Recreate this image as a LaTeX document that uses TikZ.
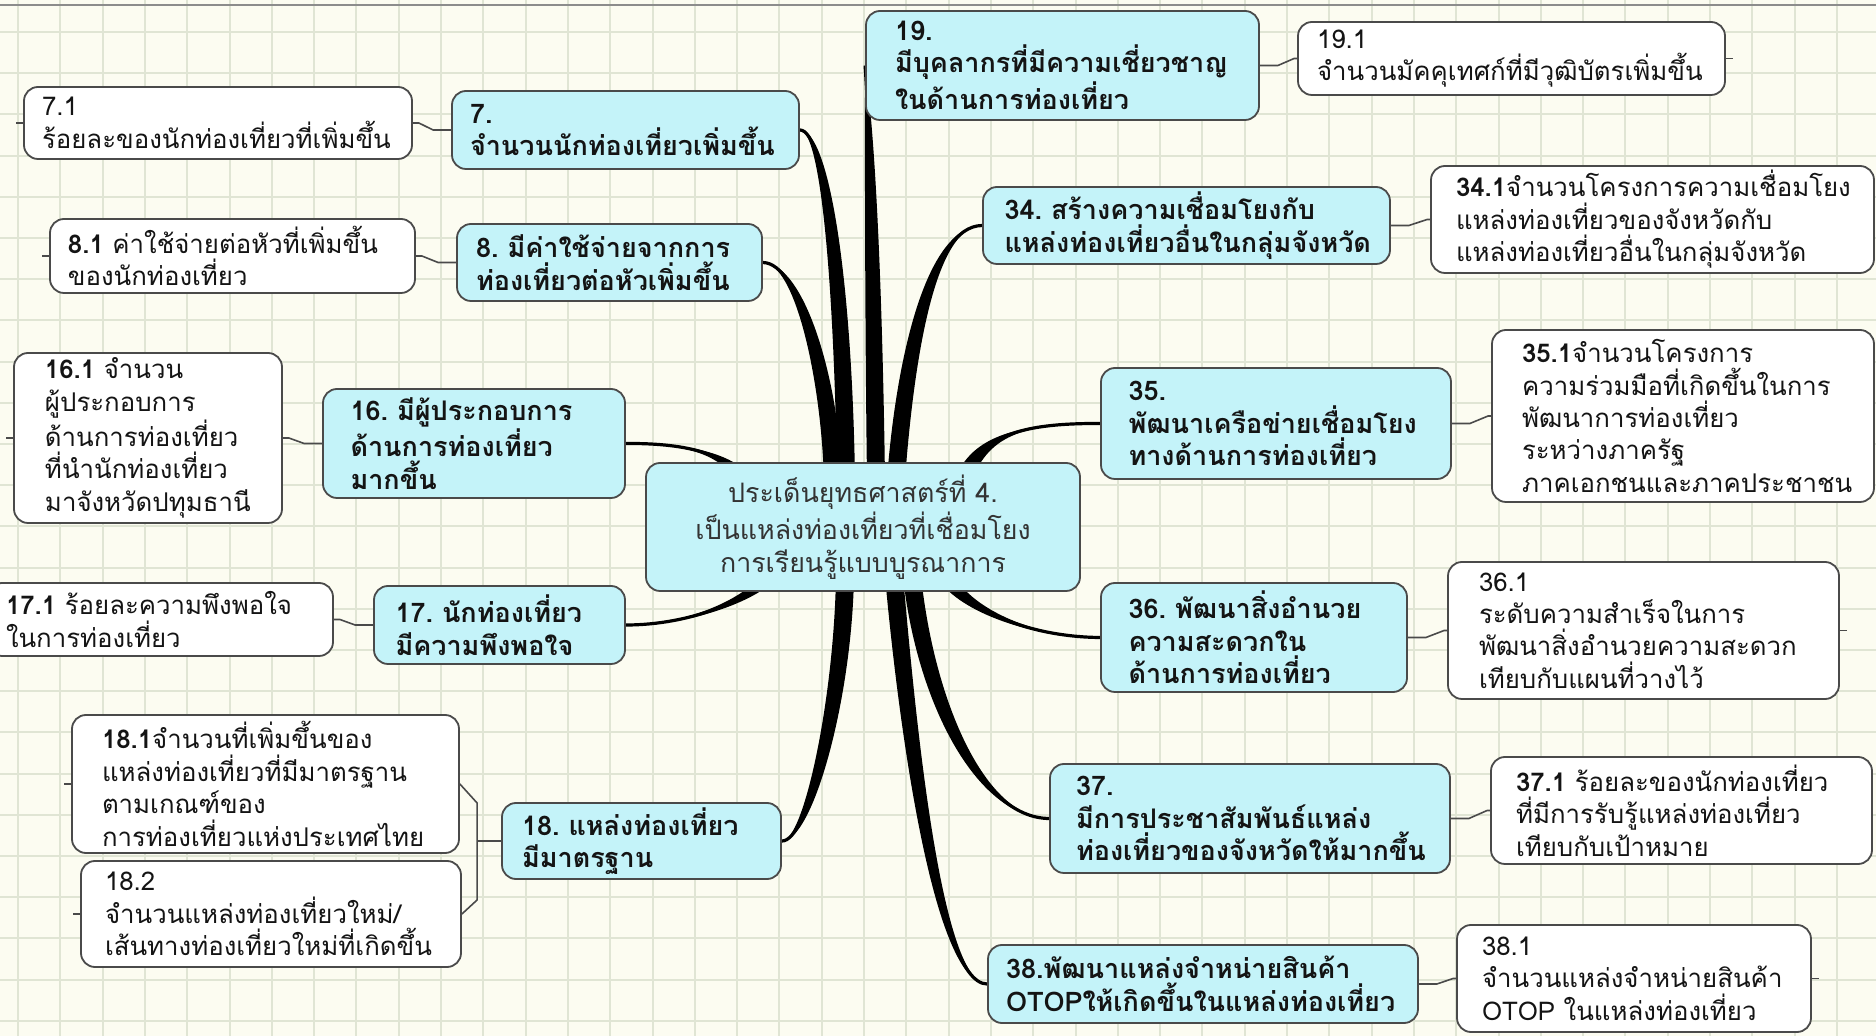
\documentclass[tikz,border=0pt]{standalone}
\usepackage{fontspec}
\newfontfamily\lomafont[Script=Thai]{Loma}
\usetikzlibrary{calc}
\pgfdeclarelayer{paper}
\pgfdeclarelayer{links}
\pgfsetlayers{paper,links,main}

\definecolor{paperbg}{HTML}{FCFCF1}
\definecolor{gridc}{HTML}{E0E5D4}
\definecolor{topicfill}{HTML}{C4F3F9}
\definecolor{boxline}{HTML}{4A4A4A}
\definecolor{hubtext}{HTML}{333333}

\tikzset{
  box/.style={draw=boxline, line width=0.9pt, rounded corners=7pt,
    inner xsep=4pt, inner ysep=0pt, align=left},
  % width, height, left padding, text width (all in pt)
  sz/.style n args={4}{minimum width=#1pt, minimum height=#2pt,
    inner xsep=#3pt, text width=#4pt},
  topic/.style={box, fill=topicfill, text=black!92,
    font=\lomafont\bfseries\fontsize{13.5}{16.2}\selectfont},
  leaf/.style={box, fill=white, text=black!92,
    font=\lomafont\fontsize{12.9}{16.2}\selectfont},
  hub/.style={box, fill=topicfill, align=center, text=hubtext,
    minimum width=217pt, minimum height=64pt,
    font=\lomafont\fontsize{13.4}{16.5}\selectfont},
  branchfill/.style={fill=black},
  branchline/.style={draw=black, line width=1.6pt},
  twig/.style={draw=boxline, line width=0.8pt},
  gridline/.style={draw=gridc, line width=1pt},
}

% tapered branch: root, control 1, control 2, target anchor,
% half width at the root, share of that width kept at control 2
\newcommand\mmbranch[6]{%
  \fill[branchfill] ($(#1)+(-#5,0)$) .. controls ($#2+(-#5,0)$) and ($#3+(-#6*#5,0)$) .. (#4)
     .. controls ($#3+(#6*#5,0)$) and ($#2+(#5,0)$) .. ($(#1)+(#5,0)$) -- cycle;
  \draw[branchline] (#1) .. controls #2 and #3 .. (#4);
}

\begin{document}
\begin{tikzpicture}[x=0.5pt,y=-0.5pt]
\useasboundingbox (0,0) rectangle (1876,1036);

% paper and grid
\begin{pgfonlayer}{paper}
  \fill[paperbg] (0,0) rectangle (1876,1036);
  \foreach \i in {0,...,44} \draw[gridline] ({18+42.3*\i},0) -- ({18+42.3*\i},1036);
  \foreach \j in {0,...,24} \draw[gridline] (0,{32+41.2*\j}) -- (1876,{32+41.2*\j});
  \draw[black!45, line width=1pt] (0,5) -- (1876,5);
\end{pgfonlayer}

% central topic
\node[hub] (c) at (863,527)
  {ประเด็นยุทธศาสตร์ที่ 4.\\เป็นแหล่งท่องเที่ยวที่เชื่อมโยง\\การเรียนรู้แบบบูรณาการ};

% main topics, left side
\node[topic, sz={173.5}{39}{9}{155.5}] (n7) at (625.5,130) {7.\\จำนวนนักท่องเที่ยวเพิ่มขึ้น};
\node[topic, sz={152.5}{38.5}{9.5}{133.5}] (n8) at (609.5,262.5) {8.~มีค่าใช้จ่ายจากการ\\ท่องเที่ยวต่อหัวเพิ่มขึ้น};
\node[topic, sz={151}{54.5}{13.75}{123.5}] (n16) at (474,443.5) {16.~มีผู้ประกอบการ\\ด้านการท่องเที่ยว\\มากขึ้น};
\node[topic, sz={125.5}{39}{10.75}{104}] (n17) at (499.5,625) {17.~นักท่องเที่ยว\\มีความพึงพอใจ};
\node[topic, sz={139.5}{38}{10}{119.5}] (n18) at (641.5,841) {18.~แหล่งท่องเที่ยว\\มีมาตรฐาน};

% main topics, right side
\node[topic, sz={196.5}{54.5}{14.5}{167.5}] (n19) at (1062.5,65.5) {19.\\มีบุคลากรที่มีความเชี่ยวชาญ\\ในด้านการท่องเที่ยว};
\node[topic, sz={203.5}{38.5}{10.75}{182}] (n34) at (1186.5,225.5) {34.~สร้างความเชื่อมโยงกับ\\แหล่งท่องเที่ยวอื่นในกลุ่มจังหวัด};
\node[topic, sz={175}{55.5}{13.75}{147.5}] (n35) at (1276,423.5) {35.\\พัฒนาเครือข่ายเชื่อมโยง\\ทางด้านการท่องเที่ยว};
\node[topic, sz={153}{54.5}{13.75}{125.5}] (n36) at (1254,637.5) {36.~พัฒนาสิ่งอำนวย\\ความสะดวกใน\\ด้านการท่องเที่ยว};
\node[topic, sz={200}{54.5}{13}{174}] (n37) at (1250,818.5) {37.\\มีการประชาสัมพันธ์แหล่ง\\ท่องเที่ยวของจังหวัดให้มากขึ้น};
\node[topic, sz={215}{39}{9}{197}] (n38) at (1203,984) {38.พัฒนาแหล่งจำหน่ายสินค้า\\OTOPให้เกิดขึ้นในแหล่งท่องเที่ยว};

% indicators, left side
\node[leaf, sz={194}{36}{9}{176}] (l71) at (218,123) {7.1\\ร้อยละของนักท่องเที่ยวที่เพิ่มขึ้น};
\node[leaf, sz={182.5}{37}{9}{164.5}] (l81) at (232.5,256) {\textbf{8.1}~ค่าใช้จ่ายต่อหัวที่เพิ่มขึ้น\\ของนักท่องเที่ยว};
\node[leaf, sz={134}{85}{15.5}{103}] (l161) at (148,438) {\textbf{16.1}~จำนวน\\ผู้ประกอบการ\\ด้านการท่องเที่ยว\\ที่นำนักท่องเที่ยว\\มาจังหวัดปทุมธานี};
\node[leaf, sz={172.5}{36.5}{9}{154.5}] (l171) at (160.5,619.5) {\textbf{17.1}~ร้อยละความพึงพอใจ\\ในการท่องเที่ยว};
\node[leaf, sz={193.5}{69}{15}{163.5}] (l181) at (265.5,784) {\textbf{18.1}จำนวนที่เพิ่มขึ้นของ\\แหล่งท่องเที่ยวที่มีมาตรฐาน\\ตามเกณฑ์ของ\\การท่องเที่ยวแห่งประเทศไทย};
\node[leaf, sz={190}{53}{12}{166}] (l182) at (271,914) {18.2\\จำนวนแหล่งท่องเที่ยวใหม่/\\เส้นทางท่องเที่ยวใหม่ที่เกิดขึ้น};

% indicators, right side
\node[leaf, sz={213.5}{36.5}{9.5}{194.5}] (l191) at (1511.5,58.5) {19.1\\จำนวนมัคคุเทศก์ที่มีวุฒิบัตรเพิ่มขึ้น};
\node[leaf, sz={221.5}{53.5}{12.5}{196.5}] (l341) at (1652.5,219.5) {\textbf{34.1}จำนวนโครงการความเชื่อมโยง\\แหล่งท่องเที่ยวของจังหวัดกับ\\แหล่งท่องเที่ยวอื่นในกลุ่มจังหวัด};
\node[leaf, sz={191}{86}{15}{161}] (l351) at (1683,416) {\textbf{35.1}จำนวนโครงการ\\ความร่วมมือที่เกิดขึ้นในการ\\พัฒนาการท่องเที่ยว\\ระหว่างภาครัฐ\\ภาคเอกชนและภาคประชาชน};
\node[leaf, sz={195.5}{68.5}{15.5}{164.5}] (l361) at (1643.5,630.5) {36.1\\ระดับความสำเร็จในการ\\พัฒนาสิ่งอำนวยความสะดวก\\เทียบกับแผนที่วางไว้};
\node[leaf, sz={190.5}{53.5}{12.5}{165.5}] (l371) at (1681.5,810.5) {\textbf{37.1}~ร้อยละของนักท่องเที่ยว\\ที่มีการรับรู้แหล่งท่องเที่ยว\\เทียบกับเป้าหมาย};
\node[leaf, sz={177}{53.5}{12.5}{152}] (l381) at (1634,978.5) {38.1\\จำนวนแหล่งจำหน่ายสินค้า\\OTOP~ในแหล่งท่องเที่ยว};

% branch roots inside the central topic
\coordinate (r7)  at ($(c.north)+(-17,17)$);
\coordinate (r8)  at ($(c.north)+(-30,17)$);
\coordinate (r19) at ($(c.north)+(13,17)$);
\coordinate (r34) at ($(c.north)+(33,17)$);
\coordinate (r35) at ($(c.north)+(97,27)$);
\coordinate (r16) at ($(c.north)+(-113,27)$);
\coordinate (r17) at ($(c.south)+(-93,-16)$);
\coordinate (r18) at ($(c.south)+(-18,-16)$);
\coordinate (r38) at ($(c.south)+(31,-16)$);
\coordinate (r37) at ($(c.south)+(49,-16)$);
\coordinate (r36) at ($(c.south)+(82,-16)$);
\coordinate (j18) at ($(n18.west)+(-24,0)$);

\begin{pgfonlayer}{links}
  % thick branches from the central topic
  \mmbranch{r7}{(843,280)}{(825,130)}{n7.east}{9}{0.5}
  \mmbranch{r8}{(830,380)}{(800,263)}{n8.east}{9}{0.5}
  \mmbranch{r19}{(874,330)}{(871,150)}{n19.west}{9}{0.7}
  \mmbranch{r34}{(905,360)}{(930,226)}{n34.west}{9}{0.5}
  \mmbranch{r35}{(975,440)}{(1010,423)}{n35.west}{9}{0.5}
  \mmbranch{r16}{(735,455)}{(690,443)}{n16.east}{9}{0.5}
  \mmbranch{r17}{(750,600)}{(690,625)}{n17.east}{9}{0.5}
  \mmbranch{r18}{(843,700)}{(808,842)}{n18.east}{9}{0.5}
  \mmbranch{r38}{(905,700)}{(935,984)}{n38.west}{9}{0.5}
  \mmbranch{r37}{(925,700)}{(980,818)}{n37.west}{9}{0.5}
  \mmbranch{r36}{(965,610)}{(1030,637)}{n36.west}{9}{0.5}

  % thin links to the indicators
  \draw[twig] (n7.west) -- ++(-18,0) -- ($(l71.east)+(6,0)$) -- (l71.east);
  \draw[twig] (n8.west) -- ++(-18,0) -- ($(l81.east)+(6,0)$) -- (l81.east);
  \draw[twig] (n16.west) -- ++(-18,0) -- ($(l161.east)+(6,0)$) -- (l161.east);
  \draw[twig] (n17.west) -- ++(-18,0) -- ($(l171.east)+(6,0)$) -- (l171.east);
  \draw[twig] (n18.west) -- (j18);
  \draw[twig] (l181.east) -- ($(j18)+(0,-38)$) -- ($(j18)+(0,59)$) -- (l182.east);
  \draw[twig] (n19.east) -- ++(18,0) -- ($(l191.west)+(-3,0)$) -- (l191.west);
  \draw[twig] (n34.east) -- ++(18,0) -- ($(l341.west)+(-3,0)$) -- (l341.west);
  \draw[twig] (n35.east) -- ++(18,0) -- ($(l351.west)+(-3,0)$) -- (l351.west);
  \draw[twig] (n36.east) -- ++(18,0) -- ($(l361.west)+(-3,0)$) -- (l361.west);
  \draw[twig] (n37.east) -- ++(18,0) -- ($(l371.west)+(-3,0)$) -- (l371.west);
  \draw[twig] (n38.east) -- ++(18,0) -- ($(l381.west)+(-3,0)$) -- (l381.west);

  % collapsed-branch stubs on the outer sides
  \draw[twig] (l71.west) -- ++(-7,0);
  \draw[twig] (l81.west) -- ++(-7,0);
  \draw[twig] (l161.west) -- ++(-7,0);
  \draw[twig] (l181.west) -- ++(-7,0);
  \draw[twig] (l182.west) -- ++(-7,0);
  \draw[twig] (l191.east) -- ++(7,0);
  \draw[twig] (l361.east) -- ++(7,0);
  \draw[twig] (l381.east) -- ++(7,0);
\end{pgfonlayer}
\end{tikzpicture}
\end{document}
